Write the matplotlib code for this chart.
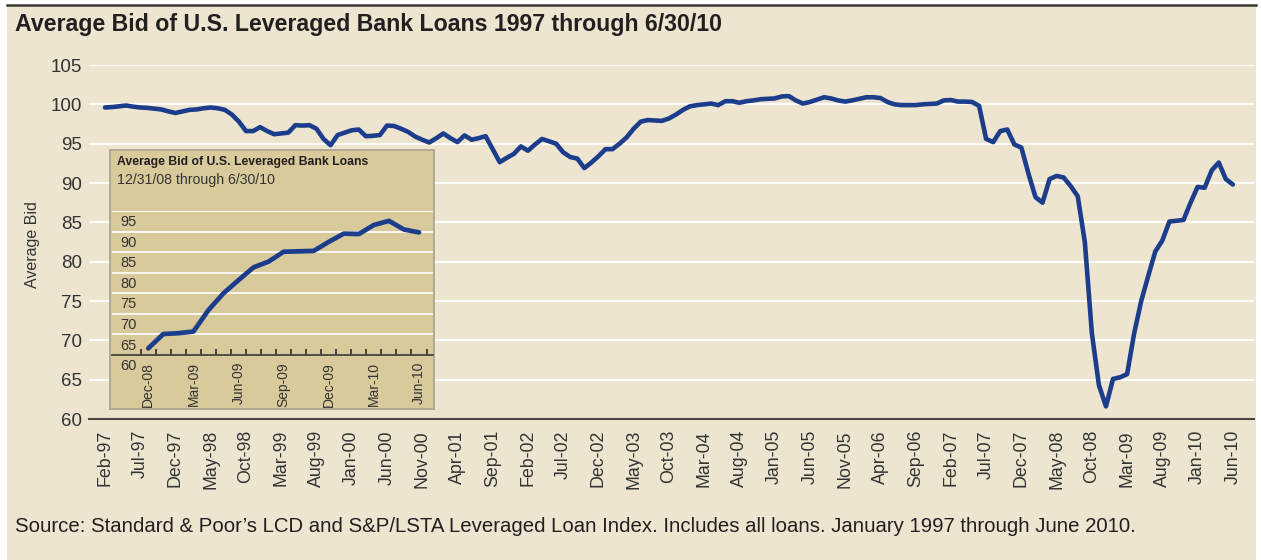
import matplotlib
matplotlib.use('Agg')
import matplotlib.pyplot as plt
import matplotlib.patches as mpatches
import matplotlib.lines as mlines
from matplotlib.transforms import blended_transform_factory

# average bid, monthly, Feb-97 .. Jun-10
avg_bid = [
    99.6, 99.65, 99.75, 99.85, 99.7, 99.6, 99.55, 99.45, 99.35, 99.1,
    98.9, 99.1, 99.3, 99.35, 99.5, 99.6, 99.5, 99.3, 98.7, 97.8,
    96.6, 96.6, 97.1, 96.6, 96.2, 96.3, 96.4, 97.35, 97.3, 97.35,
    96.9, 95.6, 94.8, 96.1, 96.4, 96.7, 96.8, 95.95, 96.0, 96.1,
    97.3, 97.25, 96.9, 96.5, 95.9, 95.5, 95.15, 95.7, 96.3, 95.7,
    95.2, 96.05, 95.5, 95.7, 95.95, 94.3, 92.65, 93.2, 93.7, 94.65,
    94.1, 94.9, 95.6, 95.3, 95.0, 93.9, 93.3, 93.1, 91.9, 92.6,
    93.4, 94.3, 94.3, 95.0, 95.8, 96.9, 97.8, 98.0, 97.95, 97.9,
    98.2, 98.7, 99.3, 99.75, 99.9, 100.0, 100.1, 99.9, 100.4, 100.4,
    100.2, 100.4, 100.5, 100.65, 100.7, 100.75, 101.0, 101.05, 100.5, 100.1,
    100.3, 100.6, 100.9, 100.75, 100.5, 100.35, 100.5, 100.7, 100.9, 100.9,
    100.8, 100.3, 100.0, 99.9, 99.9, 99.9, 100.0, 100.05, 100.1, 100.5,
    100.55, 100.35, 100.35, 100.3, 99.8, 95.6, 95.2, 96.6, 96.8, 94.9,
    94.5, 91.2, 88.2, 87.5, 90.5, 90.9, 90.7, 89.6, 88.3, 82.5,
    70.9, 64.3,
    61.6, 65.1, 65.3, 65.7, 70.9, 75.0, 78.2, 81.3, 82.7, 85.1,
    85.2, 85.3, 87.5, 89.5, 89.4, 91.6, 92.6, 90.5, 89.8,
]
month_labels = ['Feb-97', 'Jul-97', 'Dec-97', 'May-98', 'Oct-98', 'Mar-99', 'Aug-99',
                'Jan-00', 'Jun-00', 'Nov-00', 'Apr-01', 'Sep-01', 'Feb-02', 'Jul-02',
                'Dec-02', 'May-03', 'Oct-03', 'Mar-04', 'Aug-04', 'Jan-05', 'Jun-05',
                'Nov-05', 'Apr-06', 'Sep-06', 'Feb-07', 'Jul-07', 'Dec-07', 'May-08',
                'Oct-08', 'Mar-09', 'Aug-09', 'Jan-10', 'Jun-10']
y_ticks = [60, 65, 70, 75, 80, 85, 90, 95, 100, 105]

# inset: Dec-08 .. Jun-10 (last 19 months of the same series)
inset_bid = avg_bid[-19:]
inset_labels = ['Dec-08', 'Mar-09', 'Jun-09', 'Sep-09', 'Dec-09', 'Mar-10', 'Jun-10']
inset_ticks = [60, 65, 70, 75, 80, 85, 90, 95]

TAN = '#EDE5D0'
INSET_TAN = '#D9CA9B'
BLUE = '#1C3C8C'
TXT = '#231f20'
FONT = 'Liberation Sans'

plt.rcParams['font.family'] = [FONT, 'DejaVu Sans']

W, H = 1261, 560
fig = plt.figure(figsize=(W / 100, H / 100), dpi=100)
fig.patch.set_facecolor('white')

# tan panel + dark rule at the top
fig.add_artist(mpatches.Rectangle((7 / W, 0), (1256 - 7) / W, (H - 5) / H,
                                  transform=fig.transFigure, facecolor=TAN,
                                  edgecolor='none', zorder=-5))
fig.add_artist(mlines.Line2D([7 / W, 1256 / W], [1 - 5 / H, 1 - 5 / H],
                             color='#3b3631', lw=1.8, zorder=-4))

fig.text(15 / W, 1 - 25 / H, 'Average Bid of U.S. Leveraged Bank Loans 1997 through 6/30/10',
         fontsize=16.7, fontweight='bold', color=TXT, ha='left', va='center')
fig.text(15 / W, 1 - 527 / H,
         "Source: Standard & Poor\u2019s LCD and S&P/LSTA Leveraged Loan Index. "
         "Includes all loans. January 1997 through June 2010.",
         fontsize=14.7, color=TXT, ha='left', va='center')

# ---- main chart
ax = fig.add_axes([89 / W, 1 - 419 / H, (1254 - 89) / W, (419 - 65) / H])
ax.set_facecolor('none')
ax.set_ylim(60, 105)
ax.set_xlim(-2.27, 163)
for v in y_ticks[1:]:
    ax.axhline(v, color='white', lw=1.3, zorder=1)
ax.plot(range(len(avg_bid)), avg_bid, color=BLUE, lw=3.3,
        solid_joinstyle='round', solid_capstyle='round', zorder=3)
for s in ['top', 'right', 'left']:
    ax.spines[s].set_visible(False)
ax.spines['bottom'].set_color('#4a4540')
ax.spines['bottom'].set_linewidth(1.5)
ax.set_yticks(y_ticks)
ax.tick_params(axis='y', length=0, pad=5, labelsize=13.5, labelcolor='#333333')
ax.set_xticks(range(0, len(avg_bid), 5))
ax.set_xticklabels(month_labels, rotation=90)
ax.tick_params(axis='x', length=0, pad=8, labelsize=12.8, labelcolor='#333333')
fig.text(33 / W, 1 - 245 / H, 'Average Bid', rotation=90, fontsize=11.5,
         color='#333333', ha='center', va='center')

# ---- inset box
bx = fig.add_axes([110 / W, 1 - 409 / H, 324 / W, 259 / H], zorder=3)
bx.set_facecolor(INSET_TAN)
bx.set_xticks([])
bx.set_yticks([])
for s in bx.spines.values():
    s.set_color('#a8a290')
    s.set_linewidth(1.2)
bx.text(7 / 324, 1 - 12 / 259, 'Average Bid of U.S. Leveraged Bank Loans',
        transform=bx.transAxes, fontsize=8.8, fontweight='bold', color=TXT,
        ha='left', va='center')
bx.text(7 / 324, 1 - 30 / 259, '12/31/08 through 6/30/10',
        transform=bx.transAxes, fontsize=10.2, color='#333333', ha='left', va='center')

ix = fig.add_axes([112 / W, 1 - 355 / H, 321 / W, 144 / H], zorder=4)
ix.set_facecolor('none')
ix.set_ylim(60, 95)
ix.set_xlim(-2.41, 18.93)
for v in inset_ticks[1:]:
    ix.axhline(v, color='white', lw=1.2, zorder=1)
ix.plot(range(len(inset_bid)), inset_bid, color=BLUE, lw=3.4,
        solid_joinstyle='round', solid_capstyle='round', zorder=3)
for s in ['top', 'right', 'left']:
    ix.spines[s].set_visible(False)
ix.spines['bottom'].set_color('#4a4540')
ix.spines['bottom'].set_linewidth(1.3)
ix.set_yticks([])
tr = blended_transform_factory(ix.transAxes, ix.transData)
for v in inset_ticks:
    ix.text(8.5 / 321, v - 2.7, str(v), transform=tr, fontsize=10.5,
            color='#333333', ha='left', va='center')
ix.set_xticks(range(0, len(inset_bid), 3))
ix.set_xticklabels(inset_labels, rotation=90)
ix.set_xticks([j - 0.5 for j in range(len(inset_bid) + 1)], minor=True)
ix.tick_params(axis='x', which='major', length=0, pad=5, labelsize=10, labelcolor='#333333')
ix.tick_params(axis='x', which='minor', direction='in', length=4, width=1.3, color='#3b3631')

fig.savefig('out.png', dpi=100, facecolor=fig.get_facecolor())
